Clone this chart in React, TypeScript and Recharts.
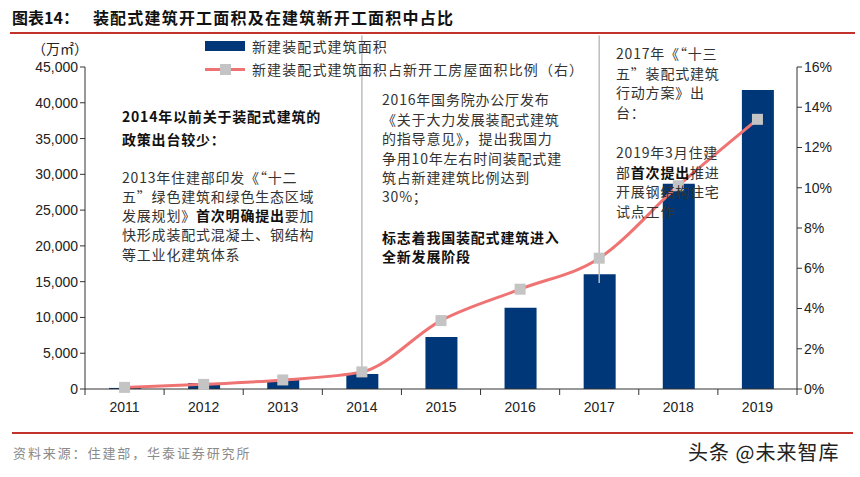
import React from 'react';
import { ComposedChart, Bar, Line, XAxis, YAxis, ReferenceLine } from 'recharts';

const years = ['2011', '2012', '2013', '2014', '2015', '2016', '2017', '2018', '2019'];
const areaValues = [150, 840, 1250, 2100, 7260, 11360, 16030, 28700, 41800];
const shareValues = [0.08, 0.23, 0.45, 0.85, 3.4, 4.96, 6.5, 10.1, 13.4];
const leftTicks = [0, 5000, 10000, 15000, 20000, 25000, 30000, 35000, 40000, 45000];
const rightTicks = [0, 2, 4, 6, 8, 10, 12, 14, 16];

const leftNoteBold = ['2014年以前关于装配式建筑的', '政策出台较少：'];
const leftNote = ['2013年住建部印发《“十二', '五”绿色建筑和绿色生态区域', '发展规划》', '快形成装配式混凝土、钢结构', '等工业化建筑体系'];
const midNote = ['2016年国务院办公厅发布', '《关于大力发展装配式建筑', '的指导意见》，提出我国力', '争用10年左右时间装配式建', '筑占新建建筑比例达到', '30%；'];
const midNoteBold = ['标志着我国装配式建筑进入', '全新发展阶段'];
const rightNoteA = ['2017年《“十三', '五”装配式建筑', '行动方案》出', '台：'];

const BAR_COLOR = '#003778';
const LINE_COLOR = '#F07373';
const MARKER_COLOR = '#C4C4C4';
const GUIDE_COLOR = '#BDBDBD';
const CJK = '"Noto Sans CJK SC", "Liberation Sans", sans-serif';
const NUM = '"Liberation Sans", Arial, sans-serif';

const PLOT_LEFT = 85;
const PLOT_RIGHT = 797;
const BAND = (PLOT_RIGHT - PLOT_LEFT) / years.length;

const data = years.map((y, i) => ({ year: y, area: areaValues[i], share: shareValues[i] }));

// category label plus a tick mark on each band boundary
const XTick = (props: any) => {
  const { x, y, payload, index } = props;
  const isLast = index === years.length - 1;
  return (
    <g>
      <line x1={x - BAND / 2} x2={x - BAND / 2} y1={y - 8} y2={y - 2} stroke="#333" strokeWidth={1} />
      {isLast && <line x1={x + BAND / 2} x2={x + BAND / 2} y1={y - 8} y2={y - 2} stroke="#333" strokeWidth={1} />}
      <text x={x} y={y + 15} textAnchor="middle" fontSize={14} fontFamily={NUM} fill="#222">
        {payload.value}
      </text>
    </g>
  );
};

const SquareDot = (props: any) => {
  const { cx, cy } = props;
  if (cx == null || cy == null) return null;
  return <rect x={cx - 5.5} y={cy - 5.5} width={11} height={11} fill={MARKER_COLOR} />;
};

const noteStyle: React.CSSProperties = {
  position: 'absolute',
  fontFamily: CJK,
  fontSize: 14,
  letterSpacing: 0.8,
  color: '#333',
  whiteSpace: 'nowrap',
};

export default function App() {
  return (
    <div style={{ position: 'absolute', left: 0, top: 0, width: 860, height: 477, background: '#fff', overflow: 'hidden' }}>
      {/* title */}
      <div style={{ position: 'absolute', left: 12, top: 5, fontFamily: CJK, fontWeight: 700, fontSize: 16, color: '#111', whiteSpace: 'nowrap' }}>
        <span>图表14：</span>
        <span style={{ marginLeft: 14, letterSpacing: 1.2 }}>装配式建筑开工面积及在建筑新开工面积中占比</span>
      </div>
      <div style={{ position: 'absolute', left: 10, top: 32, width: 845, height: 2, background: '#C0322B' }} />

      <ComposedChart
        width={860}
        height={477}
        data={data}
        margin={{ top: 67, right: 0, bottom: 58, left: 25 }}
        barSize={32}
      >
        <XAxis
          dataKey="year"
          xAxisId="x"
          height={30}
          tick={<XTick />}
          tickLine={false}
          axisLine={{ stroke: '#333' }}
          interval={0}
        />
        <YAxis
          yAxisId="left"
          width={60}
          domain={[0, 45000]}
          ticks={leftTicks}
          tickFormatter={(v: number) => v.toLocaleString('en-US')}
          tick={{ fontSize: 14, fontFamily: NUM, fill: '#222' }}
          tickSize={5}
          axisLine={{ stroke: '#333' }}
          tickLine={{ stroke: '#333' }}
        />
        <YAxis
          yAxisId="right"
          orientation="right"
          width={63}
          domain={[0, 16]}
          ticks={rightTicks}
          tickFormatter={(v: number) => `${v}%`}
          tick={{ fontSize: 14, fontFamily: NUM, fill: '#222' }}
          tickSize={5}
          axisLine={{ stroke: '#333' }}
          tickLine={{ stroke: '#333' }}
        />
        <Bar dataKey="area" xAxisId="x" yAxisId="left" fill={BAR_COLOR} isAnimationActive={false} />
        <ReferenceLine
          xAxisId="x"
          yAxisId="left"
          segment={[{ x: '2014', y: 2400 }, { x: '2014', y: 49400 }]}
          stroke={GUIDE_COLOR}
          strokeWidth={1.5}
          ifOverflow="visible"
        />
        <ReferenceLine
          xAxisId="x"
          yAxisId="left"
          segment={[{ x: '2017', y: 14800 }, { x: '2017', y: 49400 }]}
          stroke={GUIDE_COLOR}
          strokeWidth={1.5}
          ifOverflow="visible"
        />
        <Line
          dataKey="share"
          xAxisId="x"
          yAxisId="right"
          type="monotone"
          stroke={LINE_COLOR}
          strokeWidth={3}
          dot={<SquareDot />}
          activeDot={false}
          isAnimationActive={false}
        />
      </ComposedChart>

      {/* axis unit */}
      <div style={{ position: 'absolute', left: 32, top: 38, fontFamily: CJK, fontSize: 14, color: '#222' }}>（万㎡）</div>

      {/* legend */}
      <div style={{ position: 'absolute', left: 205, top: 41, width: 40, height: 10, background: BAR_COLOR }} />
      <div style={{ ...noteStyle, left: 252, top: 36, lineHeight: '20px', letterSpacing: 1.1 }}>新建装配式建筑面积</div>
      <div style={{ position: 'absolute', left: 205, top: 67.5, width: 40, height: 3, background: LINE_COLOR }} />
      <div style={{ position: 'absolute', left: 219.5, top: 63.5, width: 11, height: 11, background: MARKER_COLOR }} />
      <div style={{ ...noteStyle, left: 252, top: 59, lineHeight: '20px', letterSpacing: 1.1 }}>新建装配式建筑面积占新开工房屋面积比例（右）</div>

      {/* left note */}
      <div style={{ ...noteStyle, left: 122, top: 104.5, lineHeight: '23px', fontWeight: 700, color: '#111' }}>
        {leftNoteBold.map((t) => <div key={t}>{t}</div>)}
      </div>
      <div style={{ ...noteStyle, left: 122, top: 167.5, lineHeight: '19.3px' }}>
        <div>{leftNote[0]}</div>
        <div>{leftNote[1]}</div>
        <div>
          {leftNote[2]}
          <b style={{ color: '#111' }}>首次明确提出</b>要加
        </div>
        <div>{leftNote[3]}</div>
        <div>{leftNote[4]}</div>
      </div>

      {/* middle note */}
      <div style={{ ...noteStyle, left: 382, top: 90.3, lineHeight: '19.4px' }}>
        {midNote.map((t) => <div key={t}>{t}</div>)}
      </div>
      <div style={{ ...noteStyle, left: 382, top: 227.5, lineHeight: '19px', fontWeight: 700, color: '#111' }}>
        {midNoteBold.map((t) => <div key={t}>{t}</div>)}
      </div>

      {/* right note */}
      <div style={{ ...noteStyle, left: 616, top: 44, lineHeight: '19.6px' }}>
        {rightNoteA.map((t) => <div key={t}>{t}</div>)}
      </div>
      <div style={{ ...noteStyle, left: 616, top: 143, lineHeight: '19.6px' }}>
        <div>2019年3月住建</div>
        <div>
          部<b style={{ color: '#111' }}>首次提出</b>推进
        </div>
        <div>开展钢结构住宅</div>
        <div>试点工作</div>
      </div>

      {/* footer */}
      <div style={{ position: 'absolute', left: 12, top: 432, width: 841, height: 2, background: '#C0322B' }} />
      <div style={{ position: 'absolute', left: 13, top: 443, fontFamily: CJK, fontSize: 13, color: '#8a8a8a', letterSpacing: 1.9, whiteSpace: 'nowrap' }}>
        资料来源：住建部，华泰证券研究所
      </div>
      <div style={{ position: 'absolute', left: 688, top: 437, fontFamily: CJK, fontSize: 20, color: '#222', letterSpacing: 1, whiteSpace: 'nowrap' }}>
        头条 @未来智库
      </div>
    </div>
  );
}
